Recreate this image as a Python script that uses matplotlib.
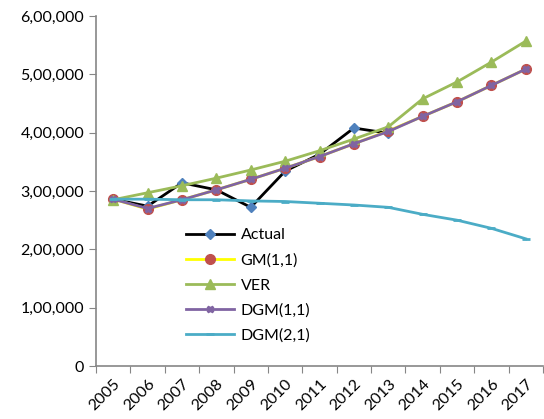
import matplotlib
matplotlib.use("Agg")
import matplotlib.pyplot as plt
from matplotlib.ticker import FuncFormatter, FixedLocator
import numpy as np

years = ['2005', '2006', '2007', '2008', '2009', '2010', '2011',
         '2012', '2013', '2014', '2015', '2016', '2017']
actual = [286000, 274000, 314000, 302000, 272000, 334000, 363000, 408000, 399000]
gm11 = [286000, 269000, 285000, 302000, 320000, 339000, 359000, 381000, 403000,
        428000, 453000, 481000, 509000]
ver = [285000, 297000, 309000, 322000, 336000, 351000, 369000, 389000, 410000,
       458000, 487000, 521000, 557000]
dgm11 = [286000, 270000, 285000, 302000, 320000, 339000, 359000, 381000, 402000,
         428000, 453000, 481000, 509000]
dgm21 = [286000, 286000, 285000, 285000, 283000, 282000, 279000, 276000, 272000,
         260000, 250000, 236000, 218000]

plt.rcParams['font.family'] = ['Lato', 'DejaVu Sans']


def indian(v, pos):
    # lakh-style grouping, as in the original axis
    v = int(round(v))
    if v == 0:
        return '0'
    s = str(v)
    last3 = s[-3:]
    rest = s[:-3]
    parts = []
    while len(rest) > 2:
        parts.insert(0, rest[-2:])
        rest = rest[:-2]
    if rest:
        parts.insert(0, rest)
    return ','.join(parts + [last3])


fig = plt.figure(figsize=(5.44, 4.19), dpi=100)
ax = fig.add_axes([96 / 544, 53 / 419, 447 / 544, 350 / 419])

x = np.arange(len(years))
ax.plot(x[:len(actual)], actual, color='black', lw=2, marker='D', ms=5,
        mfc='#4F81BD', mec='#4F81BD', label='Actual')
ax.plot(x, gm11, color='#FFFF00', lw=2, marker='o', ms=7,
        mfc='#C0504D', mec='#C0504D', label='GM(1,1)')
ax.plot(x, ver, color='#9BBB59', lw=2, marker='^', ms=7,
        mfc='#9BBB59', mec='#9BBB59', label='VER')
ax.plot(x, dgm11, color='#8064A2', lw=2, marker='X', ms=5,
        mfc='#8064A2', mec='#8064A2', label='DGM(1,1)')
ax.plot(x, dgm21, color='#4BACC6', lw=2, marker='_', ms=6, mew=2,
        mec='#4BACC6', label='DGM(2,1)')

ax.set_xlim(-0.5, len(years) - 0.5)
ax.set_ylim(0, 600000)
ax.set_yticks(np.arange(0, 600001, 100000))
ax.yaxis.set_major_formatter(FuncFormatter(indian))

ax.xaxis.set_major_locator(FixedLocator(np.arange(-0.5, len(years), 1.0)))
ax.xaxis.set_major_formatter(FuncFormatter(lambda v, p: ''))
ax.xaxis.set_minor_locator(FixedLocator(x))
ax.set_xticklabels(years, minor=True, rotation=45, ha='right', rotation_mode='anchor')
ax.tick_params(axis='x', which='minor', length=0, pad=8, labelsize=11.5)
ax.tick_params(axis='x', which='major', length=5, color='#868686')
ax.tick_params(axis='y', length=5, color='#868686', labelsize=11.5)

for side in ['top', 'right']:
    ax.spines[side].set_visible(False)
for side in ['left', 'bottom']:
    ax.spines[side].set_color('#868686')
    ax.spines[side].set_linewidth(1.2)

ax.legend(loc='upper left', bbox_to_anchor=(0.17, 0.435), frameon=False,
          fontsize=11.5, handlelength=3, labelspacing=0.68, handletextpad=0.4)

fig.savefig('out.png', dpi=100)
